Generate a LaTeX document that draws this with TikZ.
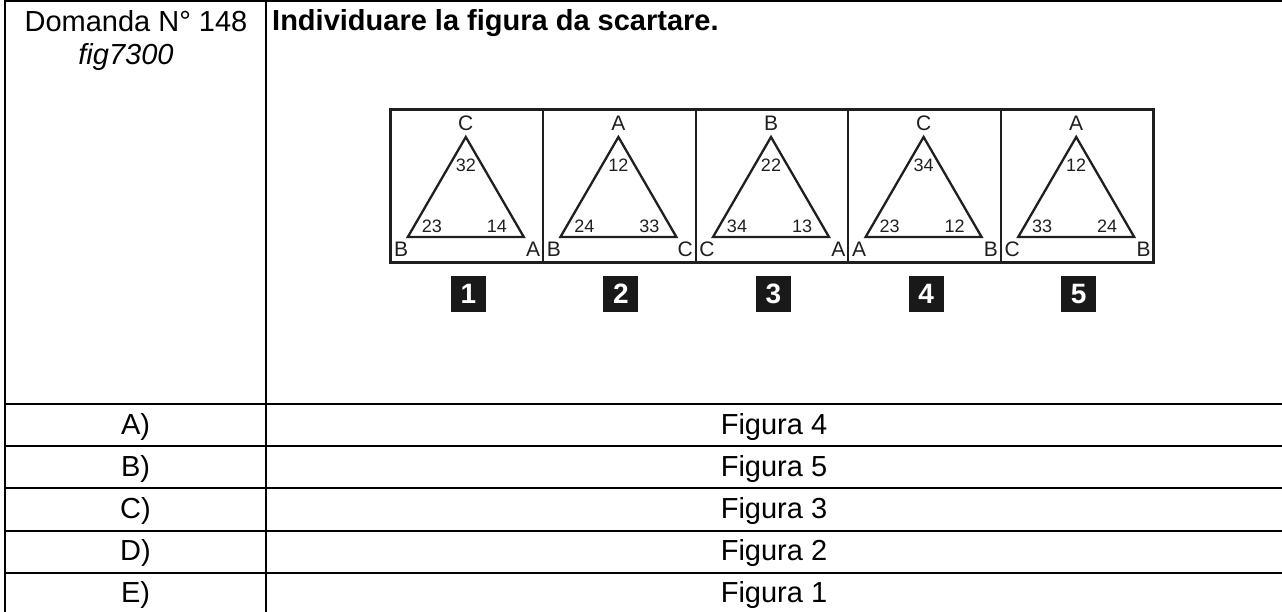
\documentclass[tikz,border=0pt]{standalone}
\usepackage{fontspec}
\setmainfont{Liberation Sans}
\begin{document}
\begin{tikzpicture}[x=1pt,y=-1pt,
  tabrule/.style={line width=2pt,draw=black},
  cell/.style={inner sep=0pt,anchor=base,font=\fontsize{29}{33}\selectfont},
  figframe/.style={line width=2.2pt,draw=black!88},
  tri/.style={line width=2.3pt,draw=black!88,line join=miter},
  vlet/.style={inner sep=0pt,anchor=base,font=\fontsize{21}{23}\selectfont,text=black!88},
  vnum/.style={inner sep=0pt,anchor=base,font=\fontsize{18}{20}\selectfont,text=black!88},
  badge/.style={fill=black!90,minimum width=35pt,minimum height=35pt,inner sep=0pt,text=white,font=\fontsize{28}{30}\selectfont\bfseries}]
\useasboundingbox (0,0) rectangle (1282,612);
% table grid
\draw[tabrule] (1290,1) -- (5,1) -- (5,620);
\draw[tabrule] (266,1) -- (266,620);
\foreach \yy in {404,446.2,488.4,530.6,572.8}{
  \draw[tabrule] (5,\yy) -- (1290,\yy);
}
% header
\node[cell] (q) at (136,32) {Domanda N° 148};
\node[cell,font=\fontsize{29}{33}\selectfont\itshape] (fig) at (126,65) {fig7300};
\node[cell,anchor=base west,font=\fontsize{29}{33}\selectfont\bfseries] (title) at (272,31) {Individuare la figura da scartare.};
% answers
\foreach \k/\lab/\ans in {1/A)/Figura 4,2/B)/Figura 5,3/C)/Figura 3,4/D)/Figura 2,5/E)/Figura 1}{
  \pgfmathsetmacro\yb{404+42.2*(\k-1)+30}
  \node[cell] (lab\k) at (135.5,\yb) {\lab};
  \node[cell] (ans\k) at (774,\yb) {\ans};
}
% figure
\draw[figframe] (390.5,109.5) rectangle (1153.5,262.5);
\foreach \i in {2,...,5}{
  \pgfmathsetmacro\L{390.5+152.6*(\i-1)}
  \draw[figframe] (\L,109.5) -- (\L,262.5);
}
\foreach \i/\tp/\bl/\br/\nt/\nl/\nr in {1/C/B/A/32/23/14,2/A/B/C/12/24/33,3/B/C/A/22/34/13,4/C/A/B/34/23/12,5/A/C/B/12/33/24}{
  \pgfmathsetmacro\L{390.5+152.6*(\i-1)}
  \pgfmathsetmacro\c{\L+76.3}
  \draw[tri] ({\c-1},137) -- ({\c-59},237) -- ({\c+57},237) -- cycle;
  \node[vlet] (top\i) at ({\c-1},131) {\tp};
  \node[vlet,anchor=base west] (bl\i) at ({\L+3.5},256.5) {\bl};
  \node[vlet,anchor=base east] (br\i) at ({\L+149.8},256.5) {\br};
  \node[vnum] (nt\i) at ({\c-1},171.5) {\nt};
  \node[vnum] (nl\i) at ({\c-35},233) {\nl};
  \node[vnum] (nr\i) at ({\c+30},233) {\nr};
  \node[badge] (badge\i) at ({\c+1.5},294) {\i};
}
\end{tikzpicture}
\end{document}
